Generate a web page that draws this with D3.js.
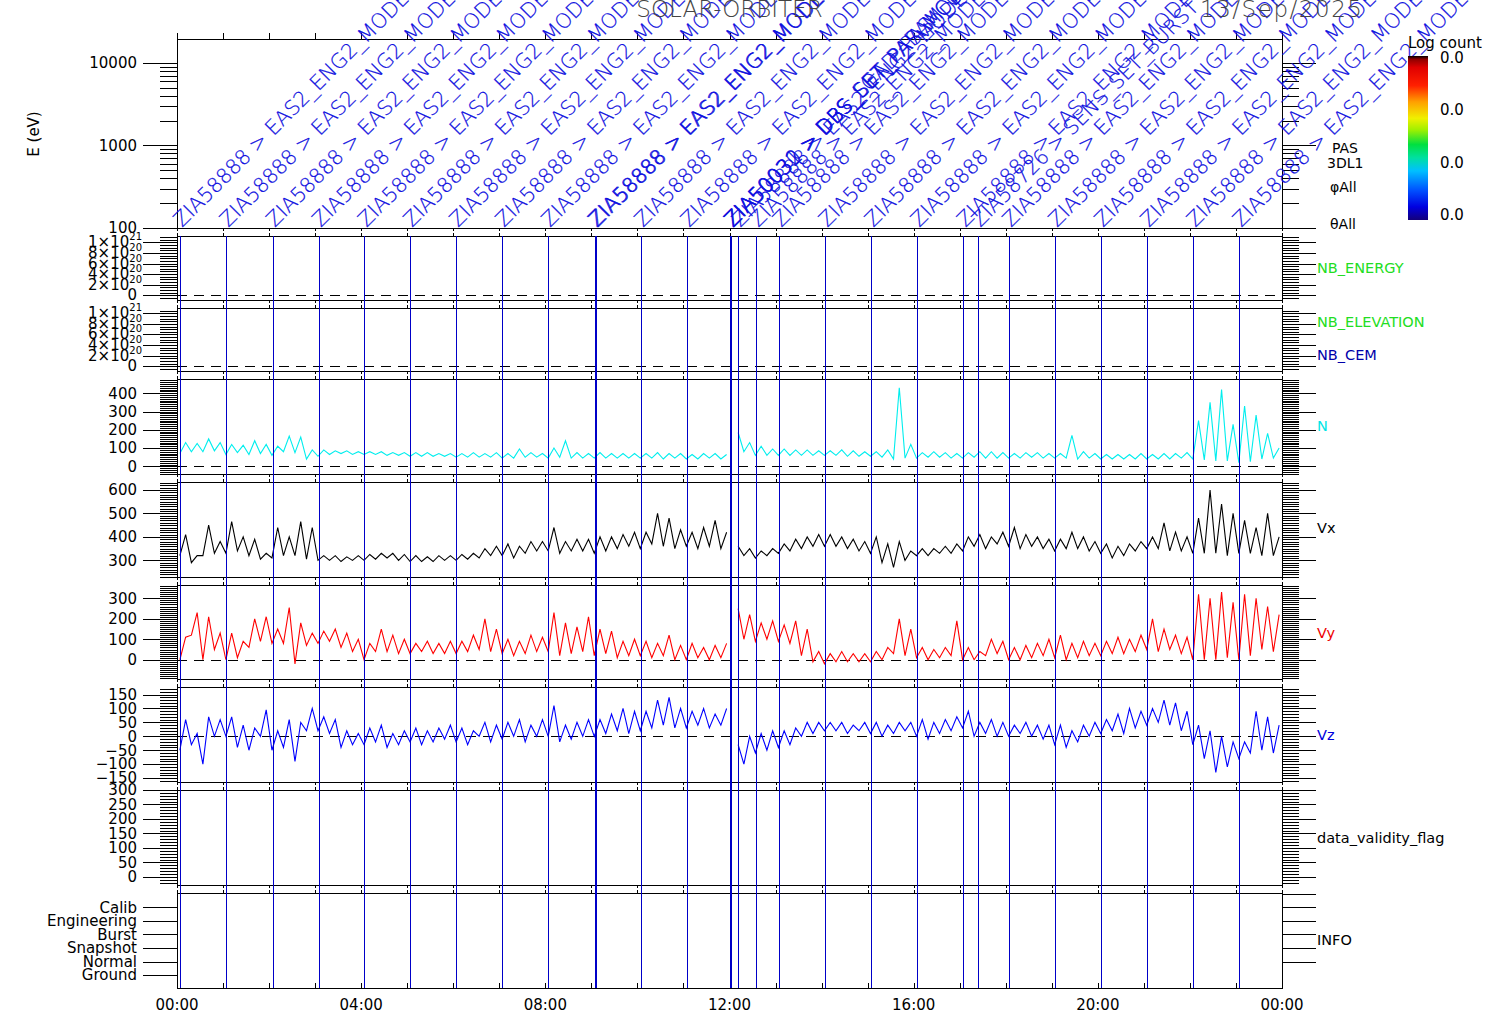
<!DOCTYPE html>
<html>
<head>
<meta charset="utf-8">
<script src="https://cdn.jsdelivr.net/npm/d3@7"></script>
<style>
  body { margin: 0; background: #fff; }
  text { font-family: "DejaVu Sans", sans-serif; }
  .thin { font-weight: 200; }
</style>
</head>
<body>
<div id="chart"></div>
<script>
// ---- data: 15 minute bins, low / high value in each bin ----
var nLo = [70, 80, 80, 85,  65, 75, 65, 70,  60, 80, 75, 40,  55, 65, 70, 65,
  65, 65, 60, 60,  55, 55, 55, 55,  50, 50, 50, 50,  45, 45, 50, 50,
  45, 50, 45, 45,  45, 45, 45, 45,  45, 45, 40, 45,  40, 40, 45, 40,
  70, 80, 60, 60,  60, 60, 60, 60,  60, 60, 55, 55,  55, 50, 40, 45,
  45, 50, 50, 45,  45, 50, 45, 45,  45, 45, 50, 45,  45, 45, 40, 45,
  40, 40, 40, 40,  40, 40, 40, 45,  40, 35, 30, 30,  20, 25, 40, 45];
var nHi = [130, 125, 150, 130,  120, 115, 140, 120,  110, 165, 160, 90,  90, 85, 85, 80,
  80, 80, 75, 75,  75, 75, 70, 70,  70, 75, 70, 75,  70, 95, 75, 70,
  100, 140, 75, 70,  75, 70, 70, 70,  70, 75, 70, 70,  65, 70, 70, 65,
  185, 130, 110, 95,  95, 90, 90, 85,  85, 90, 85, 80,  80, 90, 430, 120,
  75, 80, 75, 70,  75, 80, 80, 75,  70, 75, 75, 70,  70, 170, 80, 70,
  65, 65, 65, 70,  65, 70, 70, 75,  250, 350, 420, 230,  330, 280, 180, 100];

var vxLo = [320, 290, 320, 330,  330, 340, 320, 305,  310, 320, 320, 305,  300, 300, 295, 300,
  300, 305, 310, 300,  295, 295, 295, 300,  300, 305, 310, 320,  320, 310, 330, 340,
  340, 330, 340, 340,  330, 340, 350, 360,  350, 370, 360, 350,  360, 350, 360, 350,
  320, 320, 310, 320,  330, 340, 350, 360,  360, 360, 350, 340,  330, 290, 270, 300,
  320, 320, 330, 330,  340, 360, 350, 370,  360, 350, 360, 350,  340, 350, 350, 340,
  330, 310, 320, 340,  350, 350, 340, 340,  330, 330, 330, 320,  330, 330, 320, 320];
var vxHi = [410, 320, 450, 380,  465, 400, 390, 330,  440, 400, 465, 440,  320, 320, 315, 320,
  325, 330, 330, 325,  320, 315, 320, 320,  325, 330, 350, 360,  370, 360, 380, 380,
  440, 380, 390, 390,  400, 400, 410, 420,  420, 500, 480, 430,  420, 440, 470, 420,
  360, 350, 340, 350,  370, 390, 400, 410,  410, 400, 390, 380,  400, 370, 380, 340,
  350, 350, 360, 370,  400, 410, 400, 420,  440, 410, 400, 390,  390, 420, 400, 380,
  370, 360, 370, 380,  400, 460, 420, 400,  480, 600, 540, 500,  470, 440, 500, 400];

var vyLo = [0, 120, 0, 50,  0, 10, 60, 90,  80, 80, -20, 70,  80, 90, 60, 40,
  0, 40, 40, 30,  30, 40, 30, 30,  30, 40, 50, 40,  30, 20, 30, 40,
  40, 20, 30, 40,  20, 30, 10, 20,  20, 10, 20, 0,  0, 10, 0, 10,
  120, 100, 90, 100,  90, 80, 20, -10,  -20, -10, -10, -10,  -10, 0, 30, 20,
  10, 0, 10, 20,  0, 0, 20, 30,  0, 0, 10, 20,  10, 0, 10, 20,
  20, 30, 30, 40,  50, 40, 50, 30,  0, 0, 0, 10,  0, 20, 50, 40];
var vyHi = [110, 230, 210, 130,  130, 90, 200, 210,  150, 255, 180, 130,  140, 150, 130, 100,
  80, 150, 120, 100,  80, 90, 80, 90,  90, 120, 200, 150,  100, 90, 120, 110,
  230, 180, 160, 210,  150, 140, 90, 100,  90, 80, 120, 70,  80, 60, 70, 80,
  250, 220, 180, 190,  170, 190, 150, 40,  30, 40, 30, 30,  40, 60, 200, 150,
  60, 50, 60, 190,  60, 40, 100, 90,  60, 70, 80, 100,  120, 80, 90, 80,
  90, 110, 100, 120,  200, 150, 120, 110,  320, 300, 330, 280,  320, 300, 260, 220];

var vzLo = [-50, -30, -100, 0,  0, -40, -50, 0,  -50, -40, -90, 20,  20, 10, -40, -30,
  -30, -20, -40, -30,  -20, -30, -20, -10,  -20, -30, 0, -20,  -10, 0, -20, 0,
  0, -20, -10, 0,  0, 10, 20, 10,  20, 30, 40, 30,  30, 40, 30, 40,
  -110, -100, -60, -50,  -40, -30, 0, 10,  20, 20, 10, 20,  10, 0, 10, 20,
  0, -10, 10, 20,  30, 0, 10, 0,  0, 10, 0, -10,  -30, -40, -20, 0,
  10, 20, 10, 30,  40, 50, 40, 20,  -30, -80, -130, -110,  -80, -60, -50, -60];
var vzHi = [60, 10, 70, 60,  70, 40, 30, 95,  20, 60, 50, 100,  70, 60, 20, 10,
  30, 40, 10, 20,  30, 20, 30, 40,  30, 20, 50, 40,  50, 60, 40, 60,
  110, 40, 50, 60,  60, 80, 100, 90,  90, 130, 140, 100,  90, 100, 80, 100,
  -30, 0, 10, 20,  20, 30, 50, 50,  50, 50, 40, 50,  50, 40, 50, 50,
  60, 50, 60, 70,  90, 50, 60, 50,  40, 50, 40, 40,  40, 20, 40, 50,
  60, 80, 100, 90,  100, 130, 120, 90,  40, 20, 0, -20,  -20, 90, 70, 40];

var binHours = 0.25;
var gapStart = 12.0, gapEnd = 12.07;   // no data right after noon

// event markers (hours) and their annotations
var eventTimes = [0.065, 1.07, 2.08, 3.08, 4.07, 5.06, 6.06, 7.06, 8.06, 9.07, 9.09,
  10.08, 11.08, 12.02, 12.03, 12.04, 12.19, 12.58, 13.08, 14.08, 15.08, 16.08,
  17.08, 17.40, 18.07, 19.07, 20.07, 21.07, 22.07, 23.07];
var defaultLabel = "ZIA58888 > EAS2_ENG2_MODE";
var specialLabels = {
  "12.02": "ZIA50030 > DBS_SET_PARAM_TABLE",
  "12.03": "ZIA50031 > DBS_LOAD_PAS_CONFIG",
  "12.04": "ZIA50032 > DBS_SET_PAS_MODE_CFG",
  "17.4": "ZIA58726 > SENS_SET_BURST"
};

var eMajor = [100, 1000, 10000];
var nbMajor = [0, 2e20, 4e20, 6e20, 8e20, 1e21];
var nMajor = [0, 100, 200, 300, 400];
var vxMajor = [300, 400, 500, 600];
var vyMajor = [0, 100, 200, 300];
var vzMajor = [-150, -100, -50, 0, 50, 100, 150];
var flagMajor = [0, 50, 100, 150, 200, 250, 300];
var infoCats = ["Ground", "Normal", "Snapshot", "Burst", "Engineering", "Calib"];
var hourTicks = d3.range(0, 25);
var timeLabelHours = [0, 4, 8, 12, 16, 20, 24];
var timeLabels = ["00:00", "04:00", "08:00", "12:00", "16:00", "20:00", "00:00"];
var cbarLabels = ["0.0", "0.0", "0.0", "0.0"];

// ---- layout ----
var W = 1512, H = 1020, left = 177, right = 1282;

var svg = d3.select("#chart").append("svg")
  .attr("width", W)
  .attr("height", H);

var x = d3.scaleLinear().domain([0, 24]).range([left, right]);

function logMinor(dom) {
  var out = [];
  [10, 100, 1000, 10000].forEach(function(d) {
    for (var k = 1; k < 10; k++) {
      var v = d * k;
      if (v >= dom[0] && v <= dom[1]) out.push(v);
    }
  });
  return out;
}
function linMinor(dom, step) {
  return d3.range(Math.ceil(dom[0] / step) * step, dom[1], step);
}

var panels = [
  {top: 39, bottom: 228, log: true, domain: [100, 19500], major: eMajor,
   minor: logMinor([100, 19500]), fmt: d3.format("d")},
  {top: 236, bottom: 300, domain: [-0.89e20, 1.12e21], major: nbMajor,
   minor: linMinor([-0.89e20, 1.12e21], 5e19), sci: true, zero: true,
   label: "NB_ENERGY", labelColor: "#22dd22", labelY: 268},
  {top: 308, bottom: 371, domain: [-0.89e20, 1.1e21], major: nbMajor,
   minor: linMinor([-0.89e20, 1.1e21], 5e19), sci: true, zero: true},
  {top: 379, bottom: 474, domain: [-42, 478], major: nMajor, minor: linMinor([-42, 478], 10),
   zero: true, label: "N", labelColor: "#00e5e5", labelY: 426},
  {top: 482, bottom: 577, domain: [229, 634], major: vxMajor, minor: linMinor([229, 634], 10),
   label: "Vx", labelColor: "#000", labelY: 528},
  {top: 585, bottom: 679, domain: [-94, 365], major: vyMajor, minor: linMinor([-94, 365], 10),
   zero: true, label: "Vy", labelColor: "#ee0000", labelY: 633},
  {top: 687, bottom: 782, domain: [-164, 177], major: vzMajor, minor: linMinor([-164, 177], 10),
   zero: true, label: "Vz", labelColor: "#0000dd", labelY: 735},
  {top: 790, bottom: 885, domain: [-27.6, 300], major: flagMajor, minor: linMinor([-27.6, 300], 10),
   label: "data_validity_flag", labelColor: "#000", labelY: 838},
  {top: 893, bottom: 988, domain: [-0.96, 6.07], major: d3.range(0, 6), rightMajor: d3.range(1, 7),
   minor: [], fmt: function(i) { return infoCats[i]; },
   label: "INFO", labelColor: "#000", labelY: 940}
];

panels.forEach(function(p) {
  p.y = (p.log ? d3.scaleLog() : d3.scaleLinear()).domain(p.domain).range([p.bottom, p.top]);
});

function styleAxis(g) {
  g.select(".domain").remove();
  g.attr("font-family", "DejaVu Sans, sans-serif").attr("font-size", 15)
    .attr("shape-rendering", "crispEdges");
  g.selectAll("line").attr("stroke", "#000");
  g.selectAll("text").attr("fill", "#000");
}

var axes = svg.append("g");

panels.forEach(function(p, i) {
  var y = p.y;
  var g = axes.append("g");

  // y axes, left and right
  g.append("g").attr("transform", "translate(" + left + ",0)")
    .call(d3.axisLeft(y).tickValues(p.major).tickSize(34).tickPadding(6)
      .tickFormat(p.sci ? "" : p.fmt || d3.format("d")))
    .call(styleAxis);
  g.append("g").attr("transform", "translate(" + left + ",0)")
    .call(d3.axisLeft(y).tickValues(p.minor).tickSize(17).tickFormat(""))
    .call(styleAxis);
  g.append("g").attr("transform", "translate(" + right + ",0)")
    .call(d3.axisRight(y).tickValues(p.rightMajor || p.major).tickSize(34).tickFormat(""))
    .call(styleAxis);
  g.append("g").attr("transform", "translate(" + right + ",0)")
    .call(d3.axisRight(y).tickValues(p.minor).tickSize(17).tickFormat(""))
    .call(styleAxis);

  // 1x10^21 style labels
  if (p.sci) {
    p.major.forEach(function(v) {
      var t = g.append("text")
        .attr("text-anchor", "end")
        .attr("font-size", 15)
        .attr("y", y(v) + 5);
      if (v === 0) {
        t.attr("x", 137).text("0");
      } else {
        var e = Math.floor(Math.log10(v) + 1e-9);
        t.attr("x", 142);
        t.append("tspan").text(Math.round(v / Math.pow(10, e)) + "\u00d710");
        t.append("tspan").attr("dy", -7).attr("font-size", 10).text(e);
      }
    });
  }

  // frame
  g.append("rect")
    .attr("x", left + 0.5).attr("y", p.top + 0.5)
    .attr("width", right - left).attr("height", p.bottom - p.top)
    .attr("fill", "none").attr("stroke", "#000");

  // hourly time ticks outside the frame
  var last = i === panels.length - 1;
  g.selectAll(".tt").data(hourTicks).enter().append("line")
    .attr("class", "tt")
    .attr("x1", function(h) { return Math.round(x(h)) + 0.5; })
    .attr("x2", function(h) { return Math.round(x(h)) + 0.5; })
    .attr("y1", p.top).attr("y2", p.top - (i === 0 ? 6 : 3))
    .attr("stroke", "#000");
  g.selectAll(".tb").data(hourTicks).enter().append("line")
    .attr("class", "tb")
    .attr("x1", function(h) { return Math.round(x(h)) + 0.5; })
    .attr("x2", function(h) { return Math.round(x(h)) + 0.5; })
    .attr("y1", p.bottom).attr("y2", last ? p.bottom - 5 : p.bottom + 3)
    .attr("stroke", "#000");

  if (p.zero) {
    g.append("line")
      .attr("x1", left).attr("x2", right)
      .attr("y1", Math.round(y(0)) + 0.5).attr("y2", Math.round(y(0)) + 0.5)
      .attr("stroke", "#000").attr("stroke-dasharray", "10,7");
  }

  if (p.label) {
    svg.append("text")
      .attr("x", 1317).attr("y", p.labelY)
      .attr("dominant-baseline", "central")
      .attr("font-size", 14.5)
      .attr("fill", p.labelColor)
      .text(p.label);
  }

  svg.append("clipPath").attr("id", "clip" + i)
    .append("rect")
    .attr("x", left).attr("y", p.top)
    .attr("width", right - left).attr("height", p.bottom - p.top);
});

// extra right labels
svg.append("text").attr("x", 1317).attr("y", 322).attr("dominant-baseline", "central")
  .attr("font-size", 14.5).attr("fill", "#22dd22").text("NB_ELEVATION");
svg.append("text").attr("x", 1317).attr("y", 355).attr("dominant-baseline", "central")
  .attr("font-size", 14.5).attr("fill", "#0000aa").text("NB_CEM");
[["PAS", 1332, 153], ["3DL1", 1327, 168], ["\u03c6All", 1330, 192], ["\u03b8All", 1330, 229]]
  .forEach(function(d) {
    svg.append("text").attr("x", d[1]).attr("y", d[2]).attr("font-size", 14).text(d[0]);
  });

// E (eV) axis title
svg.append("text")
  .attr("text-anchor", "middle")
  .attr("transform", "translate(39,134)rotate(-90)")
  .attr("font-size", 15)
  .text("E (eV)");

// ---- time series: zigzag through the low and high value of each bin ----
var series = [
  {lo: nLo, hi: nHi, panel: 3, color: "#00eeee"},
  {lo: vxLo, hi: vxHi, panel: 4, color: "#000000"},
  {lo: vyLo, hi: vyHi, panel: 5, color: "#ff0000"},
  {lo: vzLo, hi: vzHi, panel: 6, color: "#0000ff"}
];

function inGap(t) { return t > gapStart && t < gapEnd; }

series.forEach(function(s) {
  var y = panels[s.panel].y;
  var pts = [];
  s.lo.forEach(function(v, i) {
    pts.push({t: i * binHours + binHours / 4, v: v});
    pts.push({t: i * binHours + binHours * 3 / 4, v: s.hi[i]});
  });
  svg.append("path")
    .datum(pts)
    .attr("clip-path", "url(#clip" + s.panel + ")")
    .attr("fill", "none")
    .attr("stroke", s.color)
    .attr("stroke-width", 1.1)
    .attr("d", d3.line()
      .defined(function(d) { return !inGap(d.t); })
      .x(function(d) { return x(d.t); })
      .y(function(d) { return y(d.v); })
    );
});

// ---- events ----
svg.append("g")
  .attr("shape-rendering", "crispEdges")
  .selectAll("line")
  .data(eventTimes)
  .enter()
  .append("line")
  .attr("x1", function(t) { return Math.round(x(t)) + 0.5; })
  .attr("x2", function(t) { return Math.round(x(t)) + 0.5; })
  .attr("y1", 236).attr("y2", 988)
  .attr("stroke", "#0000c8")
  .attr("stroke-width", 1);

svg.append("g")
  .selectAll("text")
  .data(eventTimes)
  .enter()
  .append("text")
  .attr("class", "thin")
  .attr("transform", function(t) { return "translate(" + (x(t) + 2) + ",228)rotate(-45)"; })
  .attr("font-size", 20.5)
  .attr("fill", "#1010e0")
  .attr("stroke", "#1010e0")
  .attr("stroke-width", 0.2)
  .text(function(t) { return specialLabels[String(t)] || defaultLabel; });

// ---- titles ----
svg.append("text")
  .attr("class", "thin")
  .attr("x", (left + right) / 2).attr("y", 17)
  .attr("text-anchor", "middle")
  .attr("font-size", 23)
  .attr("fill", "#444")
  .text("SOLAR-ORBITER");
svg.append("text")
  .attr("class", "thin")
  .attr("x", 1200).attr("y", 17)
  .attr("font-size", 23)
  .attr("textLength", 162)
  .attr("fill", "#444")
  .text("13/Sep/2025");

// ---- x labels ----
svg.append("g")
  .selectAll("text")
  .data(timeLabelHours)
  .enter()
  .append("text")
  .attr("x", function(h) { return x(h); })
  .attr("y", 1010)
  .attr("text-anchor", "middle")
  .attr("font-size", 15)
  .text(function(h, i) { return timeLabels[i]; });

// ---- colour bar ----
var grad = svg.append("defs").append("linearGradient")
  .attr("id", "cbar").attr("x1", 0).attr("y1", 1).attr("x2", 0).attr("y2", 0);
[[0, "#14007a"], [0.08, "#0000e0"], [0.18, "#0050ff"], [0.30, "#00c0ff"], [0.38, "#00e0a0"],
 [0.46, "#00e040"], [0.55, "#a0f000"], [0.62, "#f0f000"], [0.72, "#ffa000"], [0.82, "#ff2000"],
 [0.93, "#e00000"], [0.98, "#900000"], [1, "#000000"]].forEach(function(s) {
  grad.append("stop").attr("offset", s[0]).attr("stop-color", s[1]);
});
svg.append("rect")
  .attr("x", 1408).attr("y", 56).attr("width", 20).attr("height", 164)
  .attr("fill", "url(#cbar)");
svg.append("text").attr("x", 1408).attr("y", 48).attr("font-size", 15).text("Log count");
var cbarY = d3.scaleLinear().domain([0, cbarLabels.length - 1]).range([58, 215]);
svg.append("g")
  .selectAll("text")
  .data(cbarLabels)
  .enter()
  .append("text")
  .attr("x", 1440)
  .attr("y", function(d, i) { return cbarY(i); })
  .attr("dominant-baseline", "central")
  .attr("font-size", 15)
  .text(function(d) { return d; });
</script>
</body>
</html>
